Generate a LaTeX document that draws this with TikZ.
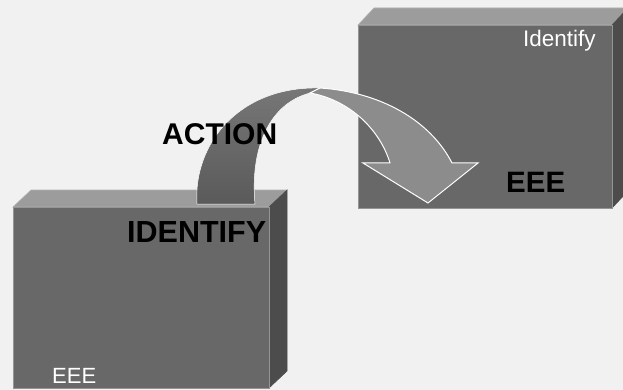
\documentclass[tikz,border=0pt]{standalone}
\usepackage{fontspec}
\setmainfont{Liberation Sans}
\definecolor{bg}{HTML}{F1F1F1}
\definecolor{frontc}{HTML}{686868}
\definecolor{topc}{HTML}{9C9C9C}
\definecolor{sidec}{HTML}{4C4C4C}
\definecolor{arrdark}{HTML}{5A5A5A}
\definecolor{arrhi}{HTML}{777777}
\definecolor{arrlight}{HTML}{8C8C8C}
\tikzset{
  front/.style={fill=frontc, draw=frontc!70!white, line width=0.6pt},
  topface/.style={fill=topc, draw=topc!80!white, line width=0.6pt},
  sideface/.style={fill=sidec, draw=sidec, line width=0.6pt},
  lbl/.style={inner sep=0pt, anchor=base west},
}
\begin{document}
\begin{tikzpicture}[x=1pt,y=-1pt]
\useasboundingbox (0,0) rectangle (623,390);
\fill[bg] (0,0) rectangle (623,390);
\clip (0,0) rectangle (623,390);
% right box
\draw[topface] (358,25) -- (374,8) -- (628,8) -- (612,25) -- cycle;
\draw[sideface] (612,25) -- (628,8) -- (628,191) -- (612,208) -- cycle;
\draw[front] (358,25) rectangle (612,208);
% left box
\draw[topface] (13,207) -- (31,190) -- (287,190) -- (269,207) -- cycle;
\draw[sideface] (269,207) -- (287,190) -- (287,371) -- (269,388) -- cycle;
\draw[front] (13,207) rectangle (269,388);
% arrow, dark rising part
\shade[top color=arrhi, bottom color=arrdark, draw=white, line width=0.5pt]
  (197,204) .. controls (193,145) and (238,86) .. (320,88)
  -- (310,93) .. controls (268,104) and (250,150) .. (255,204) -- cycle;
% arrow, light falling part with head
\draw[fill=arrlight, draw=white, line width=1pt]
  (320,88) .. controls (380,92) and (430,120) .. (452,163)
  -- (478,163) -- (428,203) -- (363,163) -- (390,163)
  .. controls (380,130) and (350,100) .. (310,93) -- cycle;
% texts
\node[lbl, font=\bfseries\fontsize{30}{30}\selectfont] (action) at (162,145) {ACTION};
\node[lbl, font=\bfseries\fontsize{30.5}{30.5}\selectfont] (identifyL) at (127,242) {IDENTIFY};
\node[lbl, font=\bfseries\fontsize{29.5}{29.5}\selectfont] (eeeR) at (506,192) {EEE};
\node[lbl, text=white, font=\fontsize{22.5}{22.5}\selectfont] (identifyR) at (523,47) {Identify};
\node[lbl, text=white, font=\fontsize{22}{22}\selectfont] (eeeL) at (52,383) {EEE};
\end{tikzpicture}
\end{document}
